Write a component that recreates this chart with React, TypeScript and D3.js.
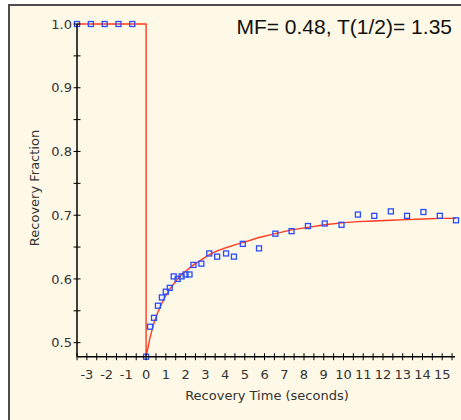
import * as d3 from 'd3'
import React from 'react'

// pre-bleach frames
const preTimes = [-3.5, -2.8, -2.1, -1.4, -0.7]
const preValues = [1.0, 1.0, 1.0, 1.0, 1.0]

// post-bleach frames
const postTimes = [0, 0.2, 0.4, 0.6, 0.8, 1.0, 1.2, 1.4, 1.6, 1.8, 2.0, 2.2, 2.4, 2.8, 3.2, 3.6, 4.05, 4.45, 4.9,
    5.72, 6.55, 7.37, 8.2, 9.05, 9.9, 10.73, 11.56, 12.4, 13.22, 14.05, 14.88, 15.7]
const postValues = [0.478, 0.525, 0.539, 0.558, 0.571, 0.58, 0.586, 0.604, 0.6, 0.604, 0.607, 0.607, 0.622, 0.624,
    0.64, 0.635, 0.64, 0.635, 0.655, 0.648, 0.671, 0.675, 0.683, 0.687, 0.685, 0.701, 0.699, 0.706, 0.699, 0.705,
    0.699, 0.692]
// fitted recovery curve at the post-bleach frames
const fitValues = [0.478, 0.508, 0.531, 0.548, 0.562, 0.574, 0.584, 0.592, 0.6, 0.607, 0.612, 0.617, 0.622, 0.63,
    0.638, 0.644, 0.649, 0.653, 0.657, 0.665, 0.671, 0.677, 0.681, 0.685, 0.688, 0.69, 0.691, 0.692, 0.693, 0.694,
    0.695, 0.695]
const preFit = 1.0

const xTickLabels = [-3, -2, -1, 0, 1, 2, 3, 4, 5, 6, 7, 8, 9, 10, 11, 12, 13, 14, 15]
const yTickLabels = [0.5, 0.6, 0.7, 0.8, 0.9, 1.0]

const title = 'MF= 0.48, T(1/2)= 1.35'
const xTitle = 'Recovery Time (seconds)'
const yTitle = 'Recovery Fraction'

export default function App() {
    const ref = React.useRef<SVGSVGElement>(null)

    React.useEffect(() => {
        const svg = d3.select(ref.current)
        svg.selectAll('*').remove()

        const width = 461, height = 420
        const x = d3.scaleLinear().domain([-3.5, 15.7]).range([77, 456])
        const y = d3.scaleLinear().domain([0.478, 1.0]).range([356.7, 24])
        const font = 'DejaVu Sans, Verdana, sans-serif'

        // panel
        svg.append('rect').attr('width', width).attr('height', height).attr('fill', '#ffffff')
        svg.append('rect')
            .attr('x', 9).attr('y', 5).attr('width', width + 10).attr('height', height + 10)
            .attr('fill', '#fef8e6').attr('stroke', '#4d4d4d').attr('stroke-width', 2)

        // fit curve: flat before bleach, drop at t=0, then recovery
        const fitPts: [number, number][] = [
            ...preTimes.map(t => [t, preFit] as [number, number]),
            [0, preFit],
            ...postTimes.map((t, i) => [t, fitValues[i]] as [number, number])
        ]
        const line = d3.line<[number, number]>().x(d => x(d[0])).y(d => y(d[1]))
        svg.append('path')
            .attr('d', line(fitPts))
            .attr('fill', 'none')
            .attr('stroke', '#ff3b1f')
            .attr('stroke-width', 1.4)

        // data points
        const pts = [
            ...preTimes.map((t, i) => ({ t, v: preValues[i] })),
            ...postTimes.map((t, i) => ({ t, v: postValues[i] }))
        ]
        const s = 5
        svg.append('g').selectAll('rect')
            .data(pts)
            .enter().append('rect')
            .attr('x', d => x(d.t) - s / 2)
            .attr('y', d => y(d.v) - s / 2)
            .attr('width', s).attr('height', s)
            .attr('fill', 'none')
            .attr('stroke', '#2a4cff')
            .attr('stroke-width', 1.3)

        // axes
        const axisY = y.range()[0]
        const axisX = x.range()[0]
        svg.append('line')
            .attr('x1', axisX).attr('x2', 455).attr('y1', axisY).attr('y2', axisY)
            .attr('stroke', '#000').attr('stroke-width', 1.5)
        svg.append('line')
            .attr('x1', axisX).attr('x2', axisX).attr('y1', axisY).attr('y2', y(1.0))
            .attr('stroke', '#000').attr('stroke-width', 1.5)

        const xMinor = d3.range(-3.5, 15.51, 0.5)
        svg.append('g').selectAll('line')
            .data(xMinor)
            .enter().append('line')
            .attr('x1', d => x(d)).attr('x2', d => x(d))
            .attr('y1', axisY - 3.5).attr('y2', axisY + 3.5)
            .attr('stroke', '#000').attr('stroke-width', 1)
        svg.append('g').selectAll('text')
            .data(xTickLabels)
            .enter().append('text')
            .attr('x', d => x(d)).attr('y', 379)
            .attr('text-anchor', 'middle')
            .attr('font-family', font).attr('font-size', 13)
            .attr('fill', '#333')
            .text(d => String(d))

        const yMinor = d3.range(0.5, 1.001, 0.05)
        svg.append('g').selectAll('line')
            .data(yMinor)
            .enter().append('line')
            .attr('x1', axisX - 3.5).attr('x2', axisX + 3.5)
            .attr('y1', d => y(d)).attr('y2', d => y(d))
            .attr('stroke', '#000').attr('stroke-width', 1)
        svg.append('g').selectAll('text')
            .data(yTickLabels)
            .enter().append('text')
            .attr('x', 72).attr('y', d => y(d))
            .attr('dy', '0.36em')
            .attr('text-anchor', 'end')
            .attr('font-family', font).attr('font-size', 13)
            .attr('fill', '#333')
            .text(d => d.toFixed(1))

        svg.append('text')
            .attr('x', 267).attr('y', 400)
            .attr('text-anchor', 'middle')
            .attr('font-family', font).attr('font-size', 13)
            .attr('fill', '#333')
            .text(xTitle)
        svg.append('text')
            .attr('transform', 'translate(38.5,188) rotate(-90)')
            .attr('text-anchor', 'middle')
            .attr('font-family', font).attr('font-size', 13)
            .attr('fill', '#333')
            .text(yTitle)

        svg.append('text')
            .attr('x', 452).attr('y', 34.3)
            .attr('text-anchor', 'end')
            .attr('font-family', 'Liberation Sans, Arial, sans-serif').attr('font-size', 21)
            .attr('fill', '#111')
            .text(title)
    }, [])

    return (
        <svg ref={ref} width={461} height={420}
            style={{ position: 'absolute', left: 0, top: 0, display: 'block' }} />
    )
}
